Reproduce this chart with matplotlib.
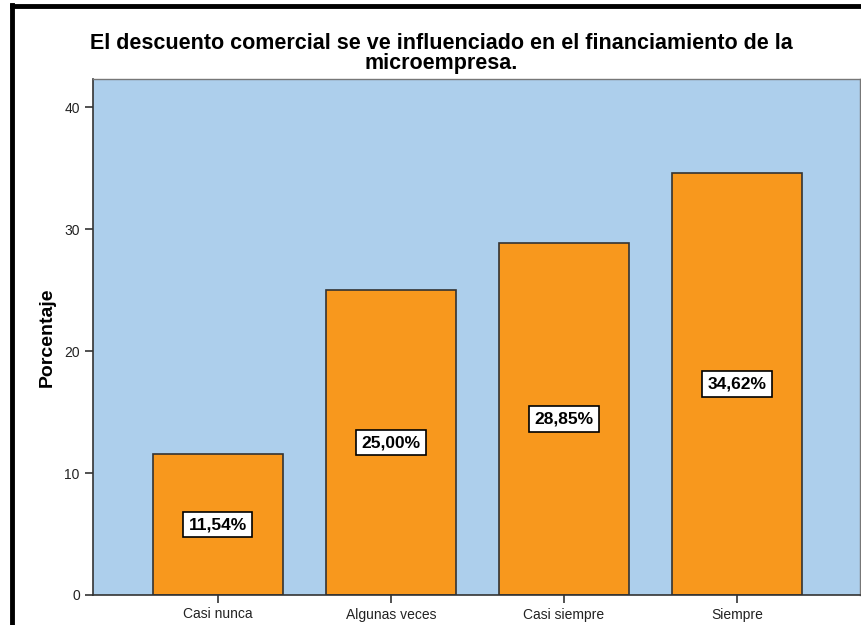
import matplotlib
matplotlib.use('Agg')
import matplotlib.pyplot as plt
from matplotlib.lines import Line2D

# Datos del grafico
categorias = ['Casi nunca', 'Algunas veces', 'Casi siempre', 'Siempre']
porcentajes = [11.54, 25.00, 28.85, 34.62]
etiquetas = ['11,54%', '25,00%', '28,85%', '34,62%']

plt.rcParams['font.family'] = ['Liberation Sans', 'DejaVu Sans']

fig = plt.figure(figsize=(8.62, 6.25), dpi=100)
ax = fig.add_axes([0.1079, 0.048, 0.8898, 0.8256])
ax.set_facecolor('#ADCFEC')

x = range(len(categorias))
ax.bar(x, porcentajes, width=0.75, color='#F8981D', edgecolor='#333333', linewidth=1.2, zorder=2)

for i, (v, t) in enumerate(zip(porcentajes, etiquetas)):
    ax.text(i, v / 2, t, ha='center', va='center', fontsize=12.5, fontweight='bold', zorder=3,
            bbox=dict(boxstyle='square,pad=0.3', facecolor='white', edgecolor='black', linewidth=1.2))

ax.set_xlim(-0.72, 3.71)
ax.set_ylim(0, 42.3)
ax.set_yticks([0, 10, 20, 30, 40])
ax.set_xticks(list(x))
ax.set_xticklabels(categorias)
ax.tick_params(axis='both', labelsize=10, length=6, width=1.2, color='#333333', labelcolor='#222222')
ax.tick_params(axis='x', pad=3)

for s in ['left', 'bottom']:
    ax.spines[s].set_color('#333333')
    ax.spines[s].set_linewidth(1.2)
for s in ['top', 'right']:
    ax.spines[s].set_color('#777777')
    ax.spines[s].set_linewidth(1.0)

ax.set_ylabel('Porcentaje', fontsize=14, fontweight='bold', labelpad=6)

fig.text(0.512, 0.915, 'El descuento comercial se ve influenciado en el financiamiento de la\nmicroempresa.',
         ha='center', va='center', fontsize=15.5, fontweight='bold', linespacing=0.93)

# Marco negro (cortado a la derecha y abajo)
fig.add_artist(Line2D([0.0134, 0.0134], [0, 0.992], color='black', linewidth=3.5, transform=fig.transFigure))
fig.add_artist(Line2D([0.0134, 1.0], [0.99, 0.99], color='black', linewidth=3.5, transform=fig.transFigure))

plt.savefig('out.png', dpi=100)
